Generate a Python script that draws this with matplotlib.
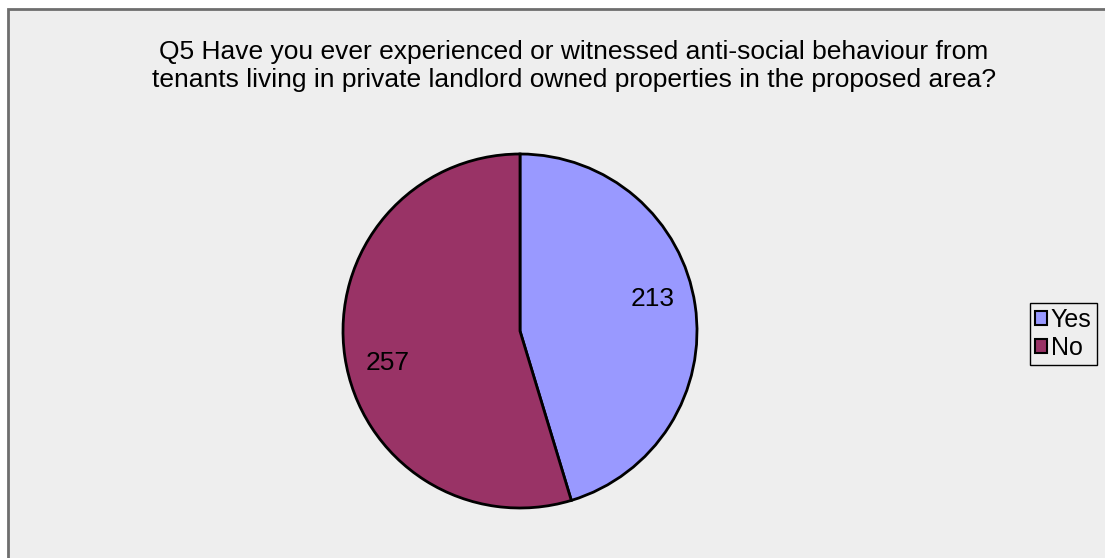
import math
import matplotlib.pyplot as plt
from matplotlib.patches import Rectangle

labels = ['Yes', 'No']
counts = [213, 257]
colors = ['#9999FF', '#993366']

title = ("Q5 Have you ever experienced or witnessed anti-social behaviour from\n"
         "tenants living in private landlord owned properties in the proposed area?")

plt.rcParams['font.family'] = ['Liberation Sans', 'DejaVu Sans']

W, H = 1105, 558
fig = plt.figure(figsize=(W / 100, H / 100), dpi=100)
fig.patch.set_facecolor('white')

# chart area: grey panel with a dark border that runs off the right/bottom
panel = Rectangle((8 / W, -0.05), 1.1, (H - 9) / H + 0.05, transform=fig.transFigure,
                  facecolor='#EEEEEE', edgecolor='#6E6E6E', linewidth=2.0, zorder=-5)
fig.patches.append(panel)

fig.text(574 / W, 1 - 66 / H, title, ha='center', va='center', fontsize=19,
         linespacing=1.2)

# pie centred at (520, 331) px with radius ~177 px
cx, cy, r = 520, H - 331, 177
ax = fig.add_axes([(cx - r) / W, (cy - r) / H, 2 * r / W, 2 * r / H])
ax.set_zorder(2)
wedges, texts = ax.pie(counts, colors=colors, startangle=90, counterclock=False,
                       wedgeprops=dict(edgecolor='black', linewidth=2))
total = sum(counts)
ang = 90.0
for w, v in zip(wedges, counts):
    span = 360.0 * v / total
    mid = ang - span / 2
    ang -= span
    # nudge label slightly anticlockwise like the spreadsheet layout
    a = math.radians(mid + 5)
    ax.text(0.77 * math.cos(a), 0.77 * math.sin(a), str(v), ha='center', va='center',
            fontsize=19)
ax.set_xlim(-1, 1)
ax.set_ylim(-1, 1)
ax.set_aspect('equal')
ax.axis('off')

handles = [Rectangle((0, 0), 1, 1, facecolor=c, edgecolor='black', linewidth=1.5)
           for c in colors]
leg = fig.legend(handles, labels, loc='center', bbox_to_anchor=(1063 / W, 1 - 334 / H),
                 fontsize=18, handlelength=0.5, handleheight=0.5, handletextpad=0.15,
                 borderpad=0.2, borderaxespad=0, labelspacing=0.15, fancybox=False,
                 framealpha=1)
leg.get_frame().set_edgecolor('black')
leg.get_frame().set_facecolor('#EEEEEE')
leg.get_frame().set_linewidth(1.0)

fig.savefig('out.png', dpi=100)
